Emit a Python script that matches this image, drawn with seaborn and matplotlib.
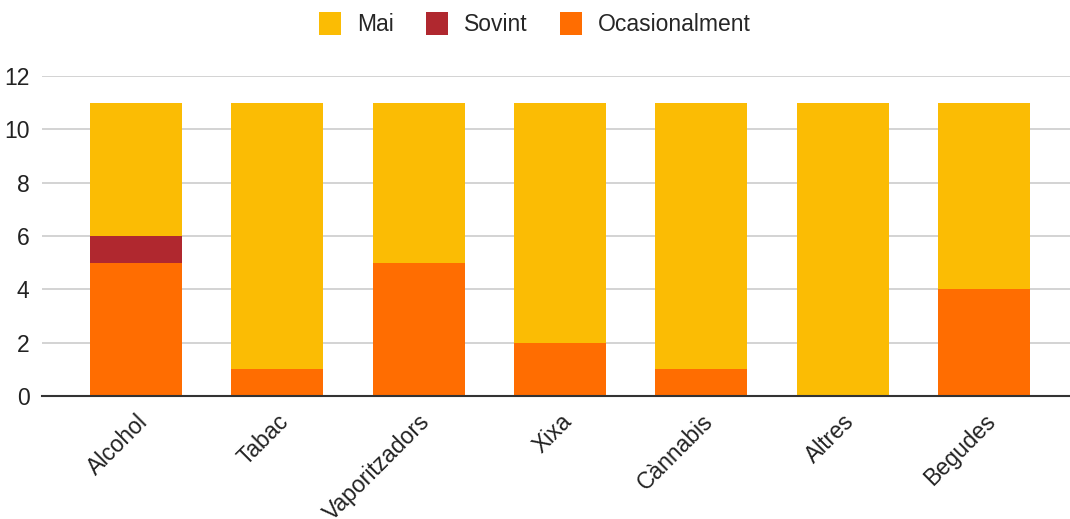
import matplotlib
matplotlib.use("Agg")
import matplotlib.pyplot as plt
import seaborn as sns
import pandas as pd
import numpy as np
from matplotlib.patches import Patch

categories = ["Alcohol", "Tabac", "Vaporitzadors", "Xixa", "Cànnabis", "Altres", "Begudes"]
ocasionalment = [5, 1, 5, 2, 1, 0, 4]
sovint = [1, 0, 0, 0, 0, 0, 0]
mai = [5, 10, 6, 9, 10, 11, 7]
series_names = ["Mai", "Sovint", "Ocasionalment"]
colors = {"Mai": "#FBBC04", "Sovint": "#B0282F", "Ocasionalment": "#FF6D01"}
yticks = [0, 2, 4, 6, 8, 10, 12]

sns.set_theme(style="white")
plt.rcParams['font.family'] = ['Liberation Sans', 'DejaVu Sans']

df = pd.DataFrame({"cat": categories, "Ocasionalment": ocasionalment,
                   "Sovint": sovint, "Mai": mai})
df["top_mai"] = df["Ocasionalment"] + df["Sovint"] + df["Mai"]
df["top_sovint"] = df["Ocasionalment"] + df["Sovint"]
df["top_ocas"] = df["Ocasionalment"]

fig = plt.figure(figsize=(10.70, 5.19), dpi=100)
L, R, T, B = 42, 1070, 76, 396
ax = fig.add_axes([L/1070, (519-B)/519, (R-L)/1070, (B-T)/519])

w = 0.65
for col, name in [("top_mai", "Mai"), ("top_sovint", "Sovint"), ("top_ocas", "Ocasionalment")]:
    sns.barplot(data=df, x="cat", y=col, color=colors[name], width=w,
                saturation=1, ax=ax, edgecolor="none", linewidth=0, order=categories)

ax.set_ylim(0, 12)
ax.set_xlim(-0.665, 6.608)
ax.set_yticks(yticks)
ax.set_yticklabels([str(t) for t in yticks], fontsize=16.5, color="#222222")
ax.yaxis.grid(True, color="#CCCCCC", linewidth=1.2)
ax.set_axisbelow(True)
for s in ["top", "right", "left"]:
    ax.spines[s].set_visible(False)
ax.spines["bottom"].set_color("#333333")
ax.spines["bottom"].set_linewidth(1.5)
ax.set_xlabel("")
ax.set_ylabel("")
ax.tick_params(axis="y", length=0, pad=9)
ax.tick_params(axis="x", length=0, pad=10)
ax.set_xticks(range(len(categories)))
ax.set_xticklabels(categories, rotation=45, ha="right", rotation_mode="anchor",
                   fontsize=16.5, color="#222222")

handles = [Patch(facecolor=colors[n], edgecolor="none", label=n) for n in series_names]
fig.legend(handles=handles, loc="center", bbox_to_anchor=(0.5, 1 - 24/519), ncol=3,
           frameon=False, fontsize=16.5, handlelength=0.96, handleheight=1.2,
           handletextpad=0.7, columnspacing=1.4)

fig.savefig("out.png", dpi=100)
